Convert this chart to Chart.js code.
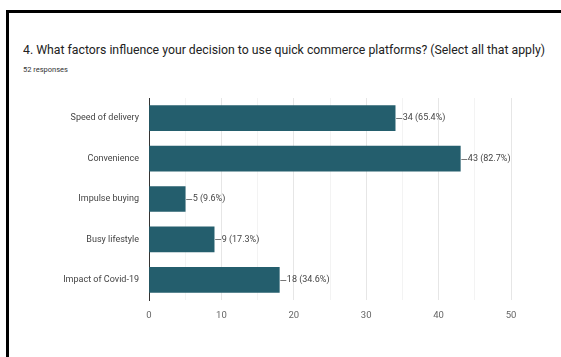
<!DOCTYPE html>
<html>
<head>
<meta charset="utf-8">
<script src="https://cdn.jsdelivr.net/npm/chart.js@4"></script>
<style>
  html, body { margin: 0; padding: 0; background: #fff; }
  body { width: 561px; height: 357px; position: relative; overflow: hidden; font-family: "Roboto", sans-serif; }
  .frame { position: absolute; left: 6px; top: 10px; width: 700px; height: 500px; border-left: 3px solid #000; border-top: 3px solid #000; }
  .title { position: absolute; left: 23px; top: 41px; font-size: 13.5px; color: #222; white-space: nowrap; transform-origin: 0 0; }
  .subtitle { position: absolute; left: 23px; top: 65px; font-size: 7.5px; color: #333; white-space: nowrap; }
  .wrap { position: absolute; left: 0; top: 0; width: 561px; height: 357px; }
</style>
</head>
<body>
<div class="frame"></div>
<div class="title" id="title">4. What factors influence your decision to use quick commerce platforms? (Select all that apply)</div>
<div class="subtitle">52 responses</div>
<div class="wrap"><canvas id="factorsChart" width="561" height="357"></canvas></div>
<script>
// survey answers
const factors = ['Speed of delivery', 'Convenience', 'Impulse buying', 'Busy lifestyle', 'Impact of Covid-19'];
const counts = [34, 43, 5, 9, 18];
const totalResponses = 52;
const axisTicks = [0, 10, 20, 30, 40, 50];

const FONT = '"Roboto", sans-serif';

// squeeze the question text to the narrow form-style width
const titleEl = document.getElementById('title');
titleEl.style.transform = 'scaleX(' + (522 / titleEl.scrollWidth) + ')';

// small leader line + "count (pct%)" after each bar
const valueLabels = {
  id: 'valueLabels',
  afterDatasetsDraw(chart) {
    const ctx = chart.ctx;
    const meta = chart.getDatasetMeta(0);
    ctx.save();
    ctx.font = '9px ' + FONT;
    ctx.textBaseline = 'middle';
    ctx.fillStyle = '#444';
    ctx.strokeStyle = '#777';
    ctx.lineWidth = 1;
    meta.data.forEach((bar, i) => {
      const v = counts[i];
      const pct = (v / totalResponses * 100).toFixed(1);
      ctx.beginPath();
      ctx.moveTo(bar.x + 1, Math.round(bar.y) + 0.5);
      ctx.lineTo(bar.x + 7, Math.round(bar.y) + 0.5);
      ctx.stroke();
      ctx.fillText(v + ' (' + pct + '%)', bar.x + 7.5, bar.y);
    });
    ctx.restore();
  }
};

const ctx = document.getElementById('factorsChart').getContext('2d');
new Chart(ctx, {
  type: 'bar',
  data: {
    labels: factors,
    datasets: [{
      data: counts,
      backgroundColor: '#245e6d',
      barThickness: 25
    }]
  },
  options: {
    indexAxis: 'y',
    responsive: false,
    animation: false,
    layout: { padding: { top: 98, right: 50, bottom: 37, left: 0 } },
    plugins: {
      legend: { display: false },
      tooltip: { enabled: false }
    },
    scales: {
      x: {
        min: 0,
        max: 50,
        afterFit: s => { s.height = 20; },
        afterBuildTicks: s => { s.ticks = [0, 5, 10, 15, 20, 25, 30, 35, 40, 45, 50].map(v => ({ value: v })); },
        border: { display: false },
        grid: {
          drawTicks: false,
          color: c => axisTicks.includes(c.tick.value) ? '#e6e6e6' : '#f3f3f3'
        },
        ticks: {
          padding: 10,
          color: '#666',
          font: { family: FONT, size: 9.5 },
          callback: v => axisTicks.includes(v) ? v : ''
        }
      },
      y: {
        afterFit: s => { s.width = 149; },
        border: { display: true, color: '#333', width: 1 },
        grid: { display: false, drawTicks: false },
        ticks: {
          padding: 10,
          color: '#444',
          font: { family: FONT, size: 9 }
        }
      }
    }
  },
  plugins: [valueLabels]
});
</script>
</body>
</html>
